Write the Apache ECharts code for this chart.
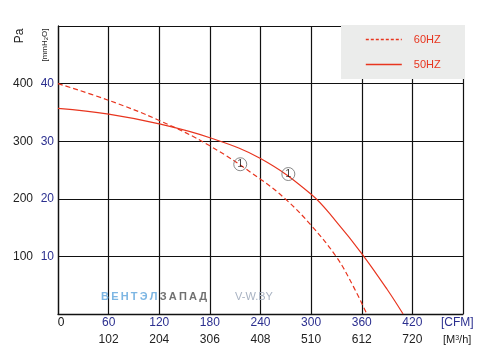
<!DOCTYPE html>
<html><head><meta charset="utf-8">
<script src="https://cdn.jsdelivr.net/npm/echarts@6/dist/echarts.min.js"></script>
<style>html,body{margin:0;padding:0;background:#fff}#c{width:494px;height:362px}</style>
</head><body><div id="c"></div>
<script>
// ---- data ----
const cfm60 = [0, 60, 120, 180, 240, 270, 300, 330, 350, 366];
const pa60  = [400, 371, 336, 292, 234, 199, 154, 99, 48, 0];
const cfm50 = [0, 60, 120, 180, 240, 300, 330, 360, 390, 409];
const pa50  = [357, 347, 330, 306, 270, 208, 160, 105, 43, 0];
const markCfm = [216, 273];
const markPa  = [260, 243];
const cfmTicks = [0, 60, 120, 180, 240, 300, 360, 420];
const m3hLabels = ['', '102', '204', '306', '408', '510', '612', '720'];
const paTicks = [100, 200, 300, 400];
const mmTicks = [10, 20, 30, 40];

const FONT = '"Liberation Sans", Arial, sans-serif';
const RED = '#e8351f';
const BLUE = '#2b2f8f';

const zip = (a, b) => a.map((v, i) => [v, b[i]]);
const chart = echarts.init(document.getElementById('c'), null, {renderer: 'canvas'});
chart.setOption({
  animation: false,
  textStyle: {fontFamily: FONT},
  grid: {left: 58, top: 26, right: 31, bottom: 48, containLabel: false},
  legend: {
    data: [
      {name: '60HZ', itemStyle: {opacity: 0}, lineStyle: {color: RED, type: [3, 2], width: 1.6, opacity: 1}},
      {name: '50HZ', itemStyle: {opacity: 0}, lineStyle: {color: RED, width: 1.4, opacity: 1}}
    ],
    orient: 'vertical', left: 365, top: 34, padding: 0,
    itemWidth: 36, itemHeight: 10, itemGap: 14, z: 5,
    textStyle: {color: RED, fontSize: 11, fontFamily: FONT, padding: [0, 0, 0, 7]}
  },
  xAxis: [{
    type: 'value', min: 0, max: 480, interval: 60,
    axisLine: {show: true, lineStyle: {color: '#111', width: 1.3}},
    axisTick: {show: false},
    splitLine: {show: true, lineStyle: {color: '#111', width: 1.2}},
    axisLabel: {
      margin: 3, fontSize: 12, color: BLUE, fontFamily: FONT,
      formatter: v => cfmTicks.includes(v) ? (v === 0 ? '{z|0}' : String(v)) : '',
      rich: {z: {color: '#111', fontSize: 12, fontFamily: FONT, padding: [0, 0, 0, 6]}}
    }
  }, {
    type: 'value', min: 0, max: 480, interval: 60, position: 'bottom', offset: 17,
    axisLine: {show: false}, axisTick: {show: false}, splitLine: {show: false},
    axisLabel: {
      margin: 3, fontSize: 12, color: '#222', fontFamily: FONT,
      formatter: v => m3hLabels[v / 60] || ''
    }
  }],
  yAxis: [{
    type: 'value', min: 0, max: 500, interval: 100, position: 'left',
    axisLine: {show: true, lineStyle: {color: '#111', width: 1.3}},
    axisTick: {show: false},
    splitLine: {show: true, lineStyle: {color: '#111', width: 1.2}},
    axisLabel: {
      margin: 25, fontSize: 12, color: '#222', fontFamily: FONT, padding: [0, 0, 8, 0],
      formatter: v => paTicks.includes(v) ? String(v) : ''
    }
  }, {
    type: 'value', min: 0, max: 500, interval: 100, position: 'left',
    axisLine: {show: false}, axisTick: {show: false}, splitLine: {show: false},
    axisLabel: {
      margin: 4, fontSize: 12, color: BLUE, fontFamily: FONT, padding: [3, 0, 0, 0],
      formatter: v => mmTicks.includes(v / 10) ? String(v / 10) : ''
    }
  }],
  graphic: [
    {type: 'rect', left: 341, top: 25, shape: {width: 124, height: 54}, style: {fill: '#ebeceb'}, z: 3},
    {type: 'text', x: 20, y: 36, rotation: Math.PI / 2,
     style: {text: 'Pa', fontSize: 12, fill: '#222', fontFamily: FONT, align: 'center', verticalAlign: 'middle'}},
    {type: 'text', x: 45, y: 45, rotation: Math.PI / 2,
     style: {text: '[mmH{s|2}O]', fontSize: 8, fill: '#222', fontFamily: FONT, align: 'center', verticalAlign: 'middle',
             rich: {s: {fontSize: 6, fill: '#222', verticalAlign: 'bottom', fontFamily: FONT}}}},
    {type: 'text', x: 441, y: 323,
     style: {text: '[CFM]', fontSize: 12, fill: BLUE, fontFamily: FONT, verticalAlign: 'middle'}},
    {type: 'text', x: 443, y: 340,
     style: {text: '[M{s|3}/h]', fontSize: 11, fill: '#222', fontFamily: FONT, verticalAlign: 'middle',
             rich: {s: {fontSize: 7, fill: '#222', verticalAlign: 'top', fontFamily: FONT}}}},
    {type: 'text', x: 101, y: 297, z: 3,
     style: {text: '{a|В\u2009Е\u2009Н\u2009Т\u2009Э\u2009Л}{b|\u2009З\u2009А\u2009П\u2009А\u2009Д}',
             verticalAlign: 'middle', fontFamily: FONT,
             rich: {
               a: {fontSize: 11, fontWeight: 'bold', fill: '#7db6e3', fontFamily: FONT},
               b: {fontSize: 11, fontWeight: 'bold', fill: '#707070', fontFamily: FONT}
             }}},
    {type: 'text', x: 235, y: 297, z: 3,
     style: {text: 'V-W.BY', fontSize: 11, fill: '#a8b2c2', fontFamily: FONT, verticalAlign: 'middle'}}
  ],
  series: [{
    name: '60HZ', type: 'line', data: zip(cfm60, pa60), smooth: 0.4, symbol: 'none',
    lineStyle: {color: RED, width: 1.2, type: [5, 3]}, itemStyle: {color: RED}, z: 2
  }, {
    name: '50HZ', type: 'line', data: zip(cfm50, pa50), smooth: 0.4, symbol: 'none',
    lineStyle: {color: RED, width: 1.2, type: 'solid'}, itemStyle: {color: RED}, z: 2
  }, {
    name: 'mark', type: 'scatter', data: zip(markCfm, markPa), symbol: 'circle', symbolSize: 13,
    itemStyle: {color: 'rgba(255,255,255,0)', borderColor: '#6b6b6b', borderWidth: 1},
    label: {show: true, position: 'inside', formatter: '1', color: '#111', fontSize: 11, fontFamily: FONT},
    z: 4
  }]
});
</script></body></html>
